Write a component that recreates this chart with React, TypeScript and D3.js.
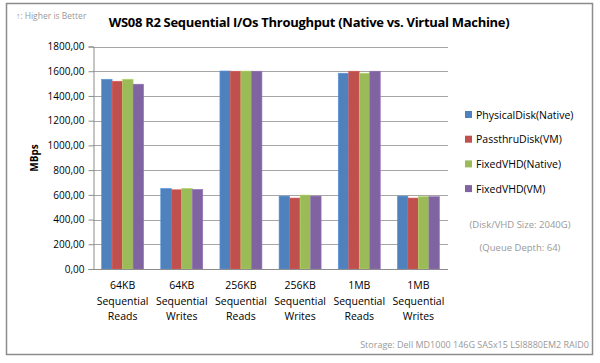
import React, { ReactElement, useEffect, useRef } from "react";
import * as d3 from "d3";

const categories = [
  ["64KB", "Sequential", "Reads"],
  ["64KB", "Sequential", "Writes"],
  ["256KB", "Sequential", "Reads"],
  ["256KB", "Sequential", "Writes"],
  ["1MB", "Sequential", "Reads"],
  ["1MB", "Sequential", "Writes"],
];
const seriesNames = ["PhysicalDisk(Native)", "PassthruDisk(VM)", "FixedVHD(Native)", "FixedVHD(VM)"];
const physicalNative = [1535, 652, 1602, 590, 1584, 590];
const passthruVM = [1519, 641, 1600, 574, 1600, 574];
const fixedNative = [1535, 652, 1601, 598, 1584, 585];
const fixedVM = [1495, 644, 1600, 590, 1600, 585];
const seriesValues = [physicalNative, passthruVM, fixedNative, fixedVM];
const colors = ["#4F81BD", "#C0504D", "#9BBB59", "#8064A2"];
const yTicks = [0, 200, 400, 600, 800, 1000, 1200, 1400, 1600, 1800];

const FONT = "'Open Sans', 'Noto Sans', sans-serif";

function App(): ReactElement {
  const ref = useRef<SVGSVGElement>(null);

  useEffect(() => {
    const svg = d3.select(ref.current);
    svg.selectAll("*").remove();

    const left = 93;
    const right = 448;
    const top = 46.5;
    const bottom = 269;

    // frame
    svg
      .append("rect")
      .attr("x", 6.5)
      .attr("y", 3.5)
      .attr("width", 586)
      .attr("height", 351)
      .attr("fill", "#fff")
      .attr("stroke", "#8c8c8c")
      .attr("stroke-width", 1.5);

    const x = d3
      .scaleBand()
      .domain(categories.map((_, i) => String(i)))
      .range([left, right])
      .paddingInner(0.29)
      .paddingOuter(0.145);
    const xs = d3.scaleBand().domain(seriesNames).range([0, x.bandwidth()]);
    const y = d3.scaleLinear().domain([0, 1800]).range([bottom, top]);

    // gridlines
    svg
      .append("g")
      .selectAll("line")
      .data(yTicks.slice(1))
      .enter()
      .append("line")
      .attr("x1", left)
      .attr("x2", right)
      .attr("y1", (d) => Math.round(y(d)) + 0.5)
      .attr("y2", (d) => Math.round(y(d)) + 0.5)
      .attr("stroke", "#a6a6a6")
      .attr("stroke-width", 1.2);

    // bars
    seriesValues.forEach((vals, si) => {
      svg
        .append("g")
        .selectAll("rect")
        .data(vals)
        .enter()
        .append("rect")
        .attr("x", (_, i) => (x(String(i)) || 0) + (xs(seriesNames[si]) || 0))
        .attr("width", xs.bandwidth())
        .attr("y", (d) => y(d))
        .attr("height", (d) => bottom - y(d))
        .attr("fill", colors[si])
        .attr("stroke", d3.color(colors[si])!.brighter(0.4).toString())
        .attr("stroke-width", 0.6);
    });

    // y axis
    const yAxis = svg
      .append("g")
      .attr("transform", `translate(${left + 0.5},0)`)
      .call(
        d3
          .axisLeft(y)
          .tickValues(yTicks)
          .tickSize(5)
          .tickPadding(4)
          .tickFormat((d) => d3.format(".2f")(d as number).replace(".", ","))
      );
    yAxis.selectAll("path,line").attr("stroke", "#8c8c8c");
    yAxis
      .selectAll("text")
      .attr("font-family", FONT)
      .attr("font-size", 10)
      .attr("fill", "#000");

    // x axis line
    svg
      .append("line")
      .attr("x1", left)
      .attr("x2", right)
      .attr("y1", bottom + 0.5)
      .attr("y2", bottom + 0.5)
      .attr("stroke", "#8c8c8c")
      .attr("stroke-width", 1.2);

    // x labels
    categories.forEach((lines, i) => {
      const cx = (x(String(i)) || 0) + x.bandwidth() / 2;
      const t = svg
        .append("text")
        .attr("x", cx)
        .attr("y", 289)
        .attr("text-anchor", "middle")
        .attr("font-family", FONT)
        .attr("font-size", 10.5)
        .attr("fill", "#000");
      lines.forEach((l, li) => {
        t.append("tspan").attr("x", cx).attr("dy", li === 0 ? 0 : 15.5).text(l);
      });
    });

    // y title
    svg
      .append("text")
      .attr("transform", "translate(38,158) rotate(-90)")
      .attr("text-anchor", "middle")
      .attr("font-family", FONT)
      .attr("font-weight", "bold")
      .attr("font-size", 10)
      .text("MBps");

    // title
    svg
      .append("text")
      .attr("x", 309)
      .attr("y", 27)
      .attr("text-anchor", "middle")
      .attr("font-family", FONT)
      .attr("font-weight", "bold")
      .attr("font-size", 13)
      .attr("letter-spacing", -0.3)
      .text("WS08 R2 Sequential I/Os Throughput (Native vs. Virtual Machine)");

    svg
      .append("text")
      .attr("x", 16)
      .attr("y", 19)
      .attr("font-family", FONT)
      .attr("font-size", 8.5)
      .attr("fill", "#999")
      .text("↑: Higher is Better");

    // legend
    seriesNames.forEach((name, i) => {
      const ly = 115 + i * 24.7;
      svg
        .append("rect")
        .attr("x", 465)
        .attr("y", ly - 4)
        .attr("width", 7)
        .attr("height", 7)
        .attr("fill", colors[i]);
      svg
        .append("text")
        .attr("x", 476)
        .attr("y", ly + 3.5)
        .attr("font-family", FONT)
        .attr("font-size", 10.5)
        .text(name);
    });

    svg
      .append("text")
      .attr("x", 520)
      .attr("y", 228)
      .attr("text-anchor", "middle")
      .attr("font-family", FONT)
      .attr("font-size", 9.5)
      .attr("fill", "#999")
      .text("(Disk/VHD Size: 2040G)");
    svg
      .append("text")
      .attr("x", 520)
      .attr("y", 251)
      .attr("text-anchor", "middle")
      .attr("font-family", FONT)
      .attr("font-size", 9.5)
      .attr("fill", "#999")
      .text("(Queue Depth: 64)");
    svg
      .append("text")
      .attr("x", 589)
      .attr("y", 348)
      .attr("text-anchor", "end")
      .attr("font-family", FONT)
      .attr("font-size", 9)
      .attr("fill", "#999")
      .text("Storage: Dell MD1000 146G SASx15 LSI8880EM2 RAID0");
  });

  return (
    <div style={{ position: "absolute", left: 0, top: 0 }}>
      <svg ref={ref} width={600} height={363}></svg>
    </div>
  );
}

export default App;
